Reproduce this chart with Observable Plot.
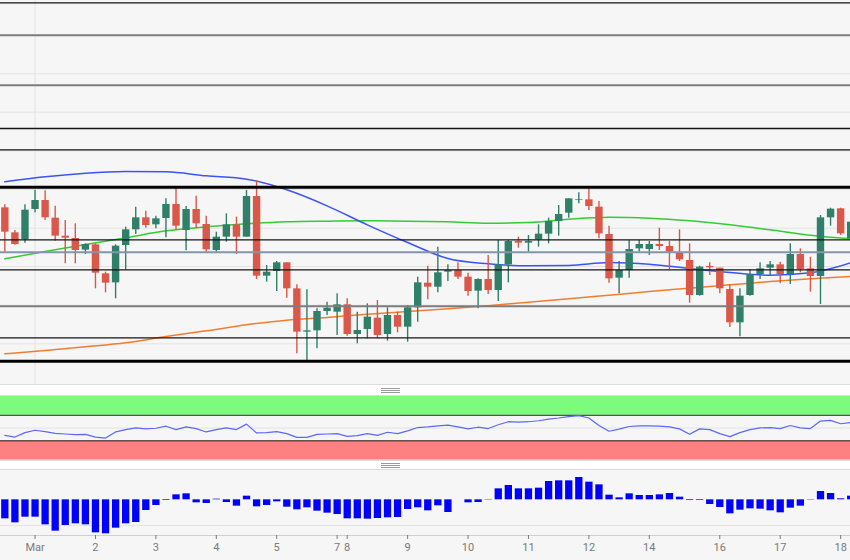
<!DOCTYPE html>
<html><head><meta charset="utf-8">
<script src="https://cdn.jsdelivr.net/npm/d3@7"></script>
<script src="https://cdn.jsdelivr.net/npm/@observablehq/plot@0.6"></script>
<style>
html,body{margin:0;padding:0;background:#f6f6f6;overflow:hidden;}
#chart{width:850px;height:560px;position:relative;font-family:Roboto,"Noto Sans",sans-serif;}
#chart svg{display:block;}
.sep{position:relative;width:850px;background:#fff;border-top:1px solid #dcdcdc;border-bottom:1px solid #dcdcdc;box-sizing:border-box;}
.handle{position:absolute;left:381px;width:19px;height:5px;border-top:1px solid #9a9a9a;border-bottom:1px solid #9a9a9a;box-sizing:border-box;}
.handle::after{content:"";position:absolute;left:0;right:0;top:1px;border-top:1px solid #9a9a9a;}
</style></head>
<body><div id="chart"></div>
<script>
// ---- candle data (4h candles, arbitrary price points) ----
const open  = [503,428,407,498,525,472,418,411,376,392, 305,278,390,437,473,452,471,513,435,498,
               453,375,415,452,415,537,298,312,338,260, 130,134,192,190,212,123,138,172,123,180,
               145,203,277,265,310,315,295,253,288,255, 332,402,397,407,424,462,487,525,527,505,
               423,292,315,380,378,393,387,368,345,240, 327,322,258,158,240,303,322,332,303,363,
               320,297,473,500,410];
const high  = [512,435,512,556,554,508,465,455,395,395, 310,392,445,505,493,478,530,562,507,538,
               478,430,485,475,555,585,330,342,338,272, 257,200,220,245,230,190,215,225,203,190,
               210,295,328,385,332,338,307,290,360,405, 405,415,420,452,472,510,530,548,560,522,
               448,342,405,405,402,442,402,437,395,328, 338,322,272,260,318,338,342,340,395,380,
               355,480,502,502,565];
const low   = [370,391,397,488,465,403,335,335,363,260, 248,230,317,423,442,440,413,435,374,440,
               370,368,400,363,415,288,280,252,232,65,  45,80,180,120,118,95,110,110,103,128,
               100,160,227,248,282,288,238,200,243,222, 278,382,370,385,395,418,472,515,495,410,
               277,245,292,370,360,375,318,342,217,238, 300,245,144,116,238,288,300,275,273,308,
               250,213,448,420,410];
const close = [430,393,496,525,473,418,412,375,393,307, 277,388,437,473,450,470,513,448,498,455,
               377,415,452,415,537,298,310,338,260,130, 134,192,202,212,123,135,175,120,180,145,
               203,278,265,308,315,295,252,288,255,332, 402,397,402,424,462,483,530,527,507,425,
               290,315,378,393,393,387,370,347,240,325, 323,260,158,238,302,320,332,303,363,318,
               297,473,499,425,460];

// moving averages, read every 4 candles
const maIndex = [0,4,8,12,16,20,24,28,32,36,40,44,48,52,56,60,64,68,72,76,80,84];
const maFast  = [581,596,607,612,611,599,589,557,509,452,399,351,335,329,330,339,334,321,309,301,308,338];
const maMid   = [350,372,393,413,434,446,455,461,463,464,463,461,457,459,469,475,472,464,452,437,421,410];
const maSlow  = [65,75,86,98,117,134,152,166,174,184,192,200,209,220,230,241,252,262,272,282,290,297];

// horizontal levels
const boxLevels   = [565, 43];
const thinLevels  = [1118, 741, 677, 407, 317, 113];
const greyLevels  = [1021, 871, 208];
const pivotLevels = [370];
const priceGrid   = [1021, 905, 790, 674, 558, 442, 327, 211, 95];

// oscillator (RSI-like)
const rsi = [38.6,35.9,42.8,46.6,44.4,41.8,40.7,39.6,40.2,35.9, 34.3,43.9,47.6,50.3,48.7,49.7,52.9,47.6,51.9,49.2,
             43.9,47.6,50.3,47.6,56.1,42.3,42.8,44.4,41.2,35.4, 35.4,40.2,40.7,41.2,37.0,38.1,41.2,38.6,43.4,41.2,
             45.5,50.8,51.9,53.5,54.5,51.9,48.7,51.3,49.2,55.1, 59.9,59.3,59.9,61.4,64.1,65.7,67.8,69.4,65.7,54.0,
             45.0,48.2,52.4,53.5,53.5,52.9,51.9,48.7,40.2,48.7, 47.6,41.2,36.5,42.8,47.6,50.3,50.8,49.2,54.0,50.3,
             49.2,60.9,62.0,56.7,58.8];
const rsiOverbought = 70, rsiOversold = 30, rsiMid = 50;

// histogram (MACD-like)
const hist = [-57,-69,-52,-52,-75,-94,-77,-72,-75,-99, -102,-85,-72,-68,-32,-17,-2,15,18,-9,
              -11,2,-8,-19,11,-21,-17,-6,-22,-30, -24,-34,-40,-44,-57,-57,-58,-56,-54,-53,
              -29,-24,-33,-18,-38,0,-9,-8,-1,33, 43,33,33,35,55,57,57,67,53,45,
              14,6,18,13,13,15,19,8,-2,-2, -14,-23,-42,-31,-27,-28,-33,-39,-25,-19,
              -1,25,19,3,11];
const histGrid = [-77];

// x tick labels (candle index -> label)
const tickIndex  = [3, 9, 15, 21, 27, 33, 34, 40, 46, 52, 58, 64, 71, 77, 83];
const tickLabels = ["Mar","2","3","4","5","7","8","9","10","11","12","14","16","17","18"];

// ---- build ----
const GREEN = "#2f7f69", RED = "#d9584a";
const candles = open.map((o, i) => ({i, o, h: high[i], l: low[i], c: close[i]}));
const colorOf = d => d.c >= d.o ? GREEN : RED;
const xDomain = [-0.43, 83.98];
const labelMap = new Map(tickIndex.map((t, k) => [t, tickLabels[k]]));
const ma = (vals) => maIndex.map((i, k) => ({i, v: vals[k]}));

const main = Plot.plot({
  width: 850, height: 384, margin: 0,
  x: {domain: xDomain, axis: null},
  y: {domain: [-27, 1125], axis: null},
  style: {background: "#f6f6f6"},
  marks: [
    Plot.ruleY(priceGrid, {stroke: "#e3e3e3", strokeWidth: 1}),
    Plot.ruleX([tickIndex[0]], {stroke: "#e3e3e3", strokeWidth: 1}),
    Plot.line(ma(maSlow), {x: "i", y: "v", stroke: "#f47c2c", strokeWidth: 1.5, curve: "monotone-x"}),
    Plot.line(ma(maMid),  {x: "i", y: "v", stroke: "#33cc33", strokeWidth: 1.5, curve: "monotone-x"}),
    Plot.line(ma(maFast), {x: "i", y: "v", stroke: "#3a55f5", strokeWidth: 1.5, curve: "monotone-x"}),
    Plot.ruleX(candles, {x: "i", y1: "l", y2: "h", stroke: colorOf, strokeWidth: 1.4}),
    Plot.ruleX(candles, {x: "i", y1: "o", y2: "c", stroke: colorOf, strokeWidth: 7.4}),
    Plot.ruleY(greyLevels,  {stroke: "#7d7d7d", strokeWidth: 2}),
    Plot.ruleY(pivotLevels, {stroke: "#8595ab", strokeWidth: 2}),
    Plot.ruleY(thinLevels,  {stroke: "#151515", strokeWidth: 1.3}),
    Plot.ruleY(boxLevels,   {stroke: "#000", strokeWidth: 3})
  ]
});

const osc = Plot.plot({
  width: 850, height: 64, margin: 0,
  x: {domain: xDomain, axis: null},
  y: {domain: [0, 100], range: [63.5, -0.4], axis: null},
  style: {background: "#f6f6f6"},
  marks: [
    Plot.rect([{lo: rsiOverbought, hi: 100}], {y1: "lo", y2: "hi", fill: "#7dfb7d"}),
    Plot.rect([{lo: 0, hi: rsiOversold}], {y1: "lo", y2: "hi", fill: "#ff8080"}),
    Plot.ruleY([rsiMid], {stroke: "#e3e3e3"}),
    Plot.ruleY([rsiOverbought, rsiOversold], {stroke: "#222", strokeWidth: 1}),
    Plot.lineY(rsi, {x: (d, i) => i, y: d => d, stroke: "#5a68ff", strokeWidth: 1.2})
  ]
});

const histRows = hist.map((v, i) => ({i, v}));
const macd = Plot.plot({
  width: 850, height: 90, marginTop: 0, marginBottom: 25, marginLeft: 0, marginRight: 0,
  x: {domain: xDomain, axis: null, label: null},
  y: {domain: [-107, 88], axis: null},
  style: {background: "#f6f6f6", fontFamily: "Roboto, 'Noto Sans', sans-serif"},
  marks: [
    Plot.ruleY(histGrid, {stroke: "#e3e3e3"}),
    Plot.ruleX(histRows, {x: "i", y1: 0, y2: "v", stroke: "#0000ff", strokeWidth: 7.3}),
    Plot.ruleY([-107], {stroke: "#cfcfcf"}),
    Plot.axisX(tickIndex, {anchor: "bottom", tickSize: 4, tickPadding: 4, fontSize: 11, label: null,
      color: "#7a7a7a", tickFormat: d => labelMap.get(d)})
  ]
});

const root = document.getElementById("chart");
root.appendChild(main);
const sep1 = document.createElement("div"); sep1.className = "sep"; sep1.style.height = "12px";
const h1 = document.createElement("div"); h1.className = "handle"; h1.style.top = "3px"; sep1.appendChild(h1);
root.appendChild(sep1);
root.appendChild(osc);
const sep2 = document.createElement("div"); sep2.className = "sep"; sep2.style.height = "10px";
const h2 = document.createElement("div"); h2.className = "handle"; h2.style.top = "2px"; sep2.appendChild(h2);
root.appendChild(sep2);
root.appendChild(macd);
</script></body></html>
